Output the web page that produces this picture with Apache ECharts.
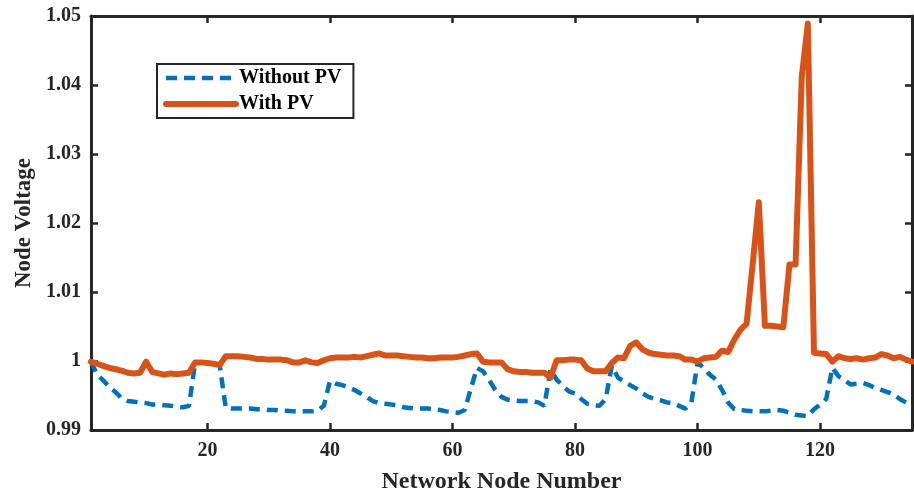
<!DOCTYPE html>
<html>
<head>
<meta charset="utf-8">
<script src="https://cdn.jsdelivr.net/npm/echarts@6/dist/echarts.min.js"></script>
<style>
html,body{margin:0;padding:0;background:#fff;}
#chart{width:914px;height:495px;}
</style>
</head>
<body>
<div id="chart"></div>
<script>
// Node numbers (categories)
const nodes = Array.from({length: 135}, (_, i) => i + 1);
const xTickLabels = [20, 40, 60, 80, 100, 120];
const yTickLabels = [0.99, 1, 1.01, 1.02, 1.03, 1.04, 1.05];

// Node voltage without PV (nodes 1..135)
const withoutPV = [
  0.9999, 0.9980, 0.9972, 0.9962, 0.9955, 0.9946, 0.9942, 0.9941, 0.9940, 0.9939,
  0.9937, 0.9937, 0.9936, 0.9935, 0.9934, 0.9933, 0.9935, 0.9998, 0.9998, 0.9997,
  0.9996, 0.9994, 0.9932, 0.9931, 0.9931, 0.9931, 0.9931, 0.9930, 0.9930, 0.9929,
  0.9929, 0.9928, 0.9928, 0.9927, 0.9927, 0.9927, 0.9927, 0.9928, 0.9935, 0.9971,
  0.9967, 0.9965, 0.9962, 0.9958, 0.9953, 0.9948, 0.9942, 0.9939, 0.9938, 0.9937,
  0.9936, 0.9933, 0.9932, 0.9931, 0.9931, 0.9931, 0.9930, 0.9929, 0.9927, 0.9926,
  0.9925, 0.9929, 0.9960, 0.9990, 0.9985, 0.9972, 0.9958, 0.9948, 0.9944, 0.9943,
  0.9942, 0.9942, 0.9942, 0.9940, 0.9935, 0.9988, 0.9973, 0.9964, 0.9956, 0.9953,
  0.9945, 0.9938, 0.9936, 0.9935, 0.9945, 0.9993, 0.9976, 0.9970, 0.9965, 0.9960,
  0.9953, 0.9948, 0.9945, 0.9943, 0.9940, 0.9939, 0.9935, 0.9931, 0.9940, 0.9998,
  0.9990, 0.9980, 0.9973, 0.9958, 0.9940, 0.9930, 0.9929, 0.9928, 0.9927, 0.9927,
  0.9927, 0.9928, 0.9929, 0.9928, 0.9925, 0.9922, 0.9921, 0.9920, 0.9930, 0.9937,
  0.9945, 0.9990, 0.9978, 0.9972, 0.9966, 0.9967, 0.9968, 0.9965, 0.9961, 0.9958,
  0.9955, 0.9952, 0.9945, 0.9940, 0.9935
];

// Node voltage with PV (nodes 1..135)
const withPV = [
  0.9999, 0.9996, 0.9993, 0.9990, 0.9988, 0.9986, 0.9983, 0.9982, 0.9983, 0.9999,
  0.9984, 0.9982, 0.9980, 0.9982, 0.9981, 0.9982, 0.9983, 0.9998, 0.9998, 0.9997,
  0.9996, 0.9994, 1.0007, 1.0007, 1.0007, 1.0006, 1.0005, 1.0003, 1.0003, 1.0002,
  1.0002, 1.0002, 1.0001, 0.9998, 0.9998, 1.0001, 0.9998, 0.9997, 1.0001, 1.0004,
  1.0005, 1.0005, 1.0005, 1.0006, 1.0005, 1.0007, 1.0009, 1.0011, 1.0008, 1.0008,
  1.0008, 1.0007, 1.0006, 1.0005, 1.0005, 1.0004, 1.0004, 1.0005, 1.0005, 1.0005,
  1.0006, 1.0008, 1.0010, 1.0011, 0.9999, 0.9998, 0.9998, 0.9998, 0.9988, 0.9985,
  0.9984, 0.9984, 0.9983, 0.9983, 0.9983, 0.9976, 1.0001, 1.0001, 1.0002, 1.0002,
  1.0001, 0.9989, 0.9985, 0.9985, 0.9985, 0.9997, 1.0005, 1.0004, 1.0022, 1.0027,
  1.0017, 1.0012, 1.0010, 1.0009, 1.0008, 1.0008, 1.0007, 1.0002, 1.0002, 0.9999,
  1.0004, 1.0005, 1.0006, 1.0015, 1.0013, 1.0031, 1.0045, 1.0054, 1.0141, 1.0230,
  1.0051, 1.0051, 1.0050, 1.0049, 1.0140, 1.0140, 1.0411, 1.0489, 1.0012, 1.0011,
  1.0010, 0.9999, 1.0007, 1.0004, 1.0003, 1.0004, 1.0002, 1.0004, 1.0005, 1.0010,
  1.0008, 1.0004, 1.0006, 1.0002, 0.9999
];

const FONT = '"Liberation Serif", "Times New Roman", serif';
const AX = '#262626';
const BLUE = '#0072BD';
const RED = '#D95319';

const isXTick = (idx, val) => xTickLabels.indexOf(Number(val)) >= 0;

const chart = echarts.init(document.getElementById('chart'), null, {renderer: 'canvas'});
chart.setOption({
  animation: false,
  backgroundColor: '#ffffff',
  grid: {left: 91, right: 2, top: 16, bottom: 65, containLabel: false, outerBoundsMode: 'none'},
  legend: {
    orient: 'vertical',
    left: 157, top: 64,
    padding: [4, 12, 4, 6],
    itemGap: 6,
    itemWidth: 70,
    itemHeight: 20,
    borderColor: AX,
    borderWidth: 2,
    borderRadius: 0,
    backgroundColor: '#fff',
    itemStyle: {opacity: 0},
    textStyle: {fontFamily: FONT, fontWeight: 'bold', fontSize: 20, color: '#000', padding: [0, 0, 0, -2]},
    data: [
      {name: 'Without PV', lineStyle: {width: 4.5, color: BLUE, type: [11, 7]}},
      {name: 'With PV', lineStyle: {width: 6, color: RED}}
    ]
  },
  xAxis: [{
    type: 'category',
    data: nodes,
    boundaryGap: false,
    name: 'Network Node Number',
    nameLocation: 'middle',
    nameGap: 40,
    nameTextStyle: {fontFamily: FONT, fontWeight: 'bold', fontSize: 24, color: '#262626'},
    axisLine: {lineStyle: {color: AX, width: 3}},
    axisTick: {inside: true, length: 7, interval: isXTick, lineStyle: {color: AX, width: 2.5}},
    axisLabel: {interval: isXTick, margin: 11, fontFamily: FONT, fontWeight: 'bold', fontSize: 20, color: '#262626'},
    splitLine: {show: false}
  }, {
    type: 'category',
    data: nodes,
    boundaryGap: false,
    position: 'top',
    axisLine: {lineStyle: {color: AX, width: 3}},
    axisTick: {inside: true, length: 7, interval: isXTick, lineStyle: {color: AX, width: 2.5}},
    axisLabel: {show: false},
    splitLine: {show: false}
  }],
  yAxis: [{
    type: 'value',
    min: 0.99, max: 1.05, interval: 0.01,
    name: 'Node Voltage',
    nameLocation: 'middle',
    nameGap: 55,
    nameTextStyle: {fontFamily: FONT, fontWeight: 'bold', fontSize: 23, color: '#262626'},
    axisLine: {show: true, lineStyle: {color: AX, width: 3}},
    axisTick: {show: true, inside: true, length: 7, lineStyle: {color: AX, width: 2.5}},
    axisLabel: {
      margin: 10, fontFamily: FONT, fontWeight: 'bold', fontSize: 20, color: '#262626',
      padding: [4, 0, 0, 0],
      formatter: v => String(+v.toFixed(2))
    },
    splitLine: {show: false}
  }, {
    type: 'value',
    min: 0.99, max: 1.05, interval: 0.01,
    position: 'right',
    axisLine: {show: true, lineStyle: {color: AX, width: 3}},
    axisTick: {show: true, inside: true, length: 7, lineStyle: {color: AX, width: 2.5}},
    axisLabel: {show: false},
    splitLine: {show: false}
  }],
  series: [{
    name: 'Without PV',
    type: 'line',
    data: withoutPV,
    symbol: 'none',
    color: BLUE,
    lineStyle: {color: BLUE, width: 4.5, type: [11, 7]},
    z: 2
  }, {
    name: 'With PV',
    type: 'line',
    data: withPV,
    symbol: 'none',
    color: RED,
    lineStyle: {color: RED, width: 6, cap: 'round', join: 'round'},
    z: 3
  }]
});
</script>
</body>
</html>
